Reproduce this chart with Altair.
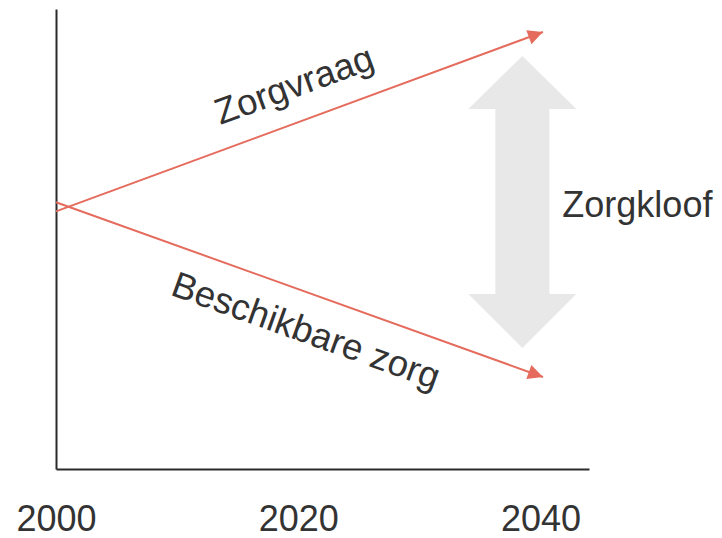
import altair as alt
import pandas as pd

# --- data ---
years = [2000, 2040.2]
zorgvraag = [56, 95]
beschikbare = [58, 20]
tick_years = [2000, 2020, 2040]

gap_x = 2038.5
gap_top = 89.8
gap_bottom = 26.3

label_names = ["Zorgvraag", "Beschikbare zorg"]
label_x = [2020.0, 2020.3]
label_y = [81.0, 27.6]
label_angle = [339.8, 19.7]

kloof_text = "Zorgkloof"
kloof_x = 2041.8
kloof_y = 54.8

RED = "#e56b5d"
GRAY = "#e8e8e8"
TEXT = "#333333"
FONT = "Liberation Sans"

lines = pd.DataFrame({
    "year": years * 2,
    "value": zorgvraag + beschikbare,
    "series": ["Zorgvraag"] * 2 + ["Beschikbare zorg"] * 2,
})
heads = pd.DataFrame({
    "year": [years[-1], years[-1]],
    "value": [zorgvraag[-1], beschikbare[-1]],
    "angle": [label_angle[0], label_angle[1]],
})
gap = pd.DataFrame({"year": [gap_x], "value": [(gap_top + gap_bottom) / 2]})
labels = pd.DataFrame({"year": label_x, "value": label_y, "text": label_names, "angle": label_angle})
kloof = pd.DataFrame({"year": [kloof_x], "value": [kloof_y], "text": [kloof_text]})

xs = alt.Scale(domain=[2000, 2044], nice=False, zero=False)
ys = alt.Scale(domain=[0, 100], nice=False, zero=False)

xaxis = alt.Axis(values=tick_years, format="d", title=None, grid=False, ticks=False,
                 labelFontSize=36, labelFont=FONT, labelColor=TEXT, labelPadding=61,
                 labelBaseline="alphabetic", labelFlush=False, domainColor="#2b2b2b",
                 domainWidth=2)
yaxis = alt.Axis(title=None, grid=False, ticks=False, labels=False,
                 domainColor="#2b2b2b", domainWidth=2)

base_x = alt.X("year:Q", scale=xs, axis=xaxis)
base_y = alt.Y("value:Q", scale=ys, axis=yaxis)

gap_layer = alt.Chart(gap).mark_point(
    shape="M 0 -1 L 0.37 -0.637 L 0.185 -0.637 L 0.185 0.63 L 0.37 0.63 L 0 1 "
          "L -0.37 0.63 L -0.185 0.63 L -0.185 -0.637 L -0.37 -0.637 Z",
    filled=True, color=GRAY, opacity=1, size=85264, strokeWidth=0,
).encode(x=base_x, y=base_y)

line_layer = alt.Chart(lines).mark_line(color=RED, strokeWidth=2).encode(
    x=base_x, y=base_y, detail="series:N")

head_layer = alt.Chart(heads).mark_point(
    shape="M 0 0 L -2 -1 L -2 1 Z", filled=True, color=RED, opacity=1,
    size=225, strokeWidth=0,
).encode(x=base_x, y=base_y, angle=alt.Angle("angle:Q", scale=None))

text_layer = alt.Chart(labels).mark_text(
    font=FONT, fontSize=36.5, color=TEXT, align="center", baseline="alphabetic",
).encode(x=base_x, y=base_y, text="text:N", angle=alt.Angle("angle:Q", scale=None))

kloof_layer = alt.Chart(kloof).mark_text(
    font=FONT, fontSize=36, color=TEXT, align="left", baseline="alphabetic",
).encode(x=base_x, y=base_y, text="text:N")

chart = alt.layer(gap_layer, line_layer, head_layer, text_layer, kloof_layer).properties(
    width=533, height=460,
    autosize=alt.AutoSizeParams(type="none"),
    padding={"left": 48, "top": 1, "right": 125, "bottom": 69},
).configure(background="white").configure_view(stroke=None, strokeWidth=0)

chart.save("out.html", embed_options={"renderer": "svg", "actions": False})
